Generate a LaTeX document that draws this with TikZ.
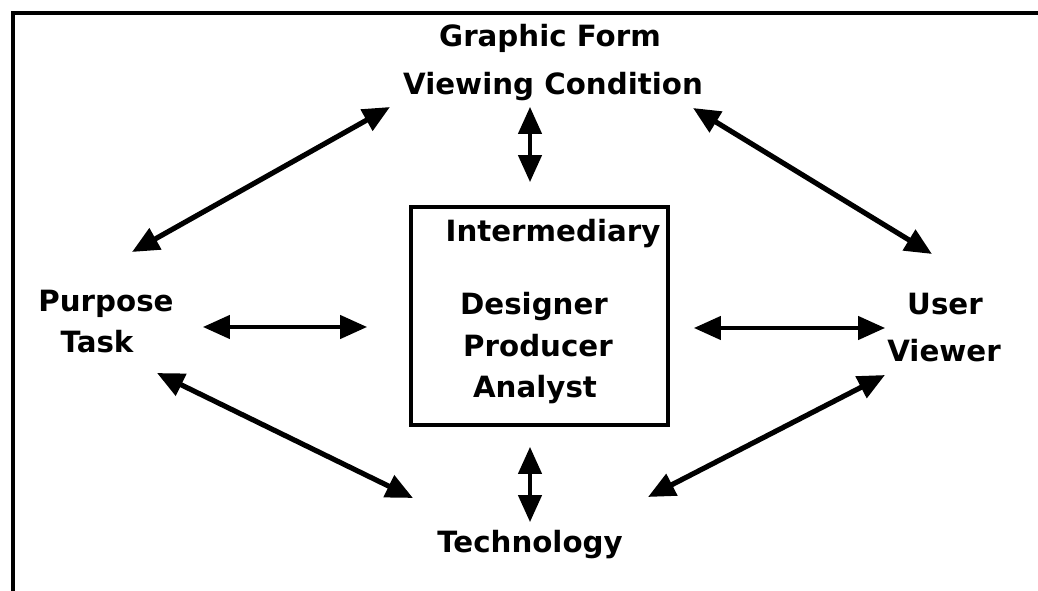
\documentclass[tikz,border=0pt]{standalone}
\usepackage{fontspec}
\setmainfont{DejaVu Sans}
\usetikzlibrary{arrows.meta}
\tikzset{
    every node/.style={font=\bfseries\fontsize{12.5}{14}\selectfont, anchor=base, inner sep=0pt},
    link/.style={{Triangle[length=11.5pt, width=10pt]}-{Triangle[length=11.5pt, width=10pt]}, line width=2.2pt},
    short link/.style={link, line width=1.4pt}
}

\begin{document}
\begin{tikzpicture}[x=0.015cm, y=-0.015cm]
	\useasboundingbox (0,0) rectangle (1038,591);
	\draw[line width=1.7pt] (13,591) -- (13,13) -- (1038,13);
	\draw[line width=1.3pt] (411,207) rectangle (668,425);

	\node (form) at (550,47) {Graphic Form};
	\node (cond) at (553,95) {Viewing Condition};
	\node (inter) at (553,242) {Intermediary};
	\node (designer) at (534,315) {Designer};
	\node (producer) at (538,357) {Producer};
	\node (analyst) at (535,398) {Analyst};
	\node (purpose) at (106,312) {Purpose};
	\node (task) at (97,353) {Task};
	\node (user) at (945,315) {User};
	\node (viewer) at (944,362) {Viewer};
	\node (tech) at (530,553) {Technology};

	\coordinate (cond-w) at (390,107); \coordinate (cond-e) at (693,108);
	\coordinate (cond-s) at (530,107); \coordinate (box-n) at (530,182);
	\coordinate (task-ne) at (132,252); \coordinate (task-e) at (203,327);
	\coordinate (task-se) at (157,373); \coordinate (box-w) at (367,327);
	\coordinate (user-nw) at (932,254); \coordinate (user-w) at (885,328);
	\coordinate (user-sw) at (885,375); \coordinate (box-e) at (694,328);
	\coordinate (tech-w) at (413,498); \coordinate (tech-e) at (648,497);
	\coordinate (box-s) at (530,447); \coordinate (tech-n) at (530,522);

	\draw[link] (task-ne) -- (cond-w); \draw[link] (cond-e) -- (user-nw);
	\draw[link] (task-se) -- (tech-w); \draw[link] (user-sw) -- (tech-e);
	\draw[short link] (task-e) -- (box-w); \draw[short link] (box-e) -- (user-w);
	\draw[short link] (cond-s) -- (box-n); \draw[short link] (box-s) -- (tech-n);
\end{tikzpicture}
\end{document}
